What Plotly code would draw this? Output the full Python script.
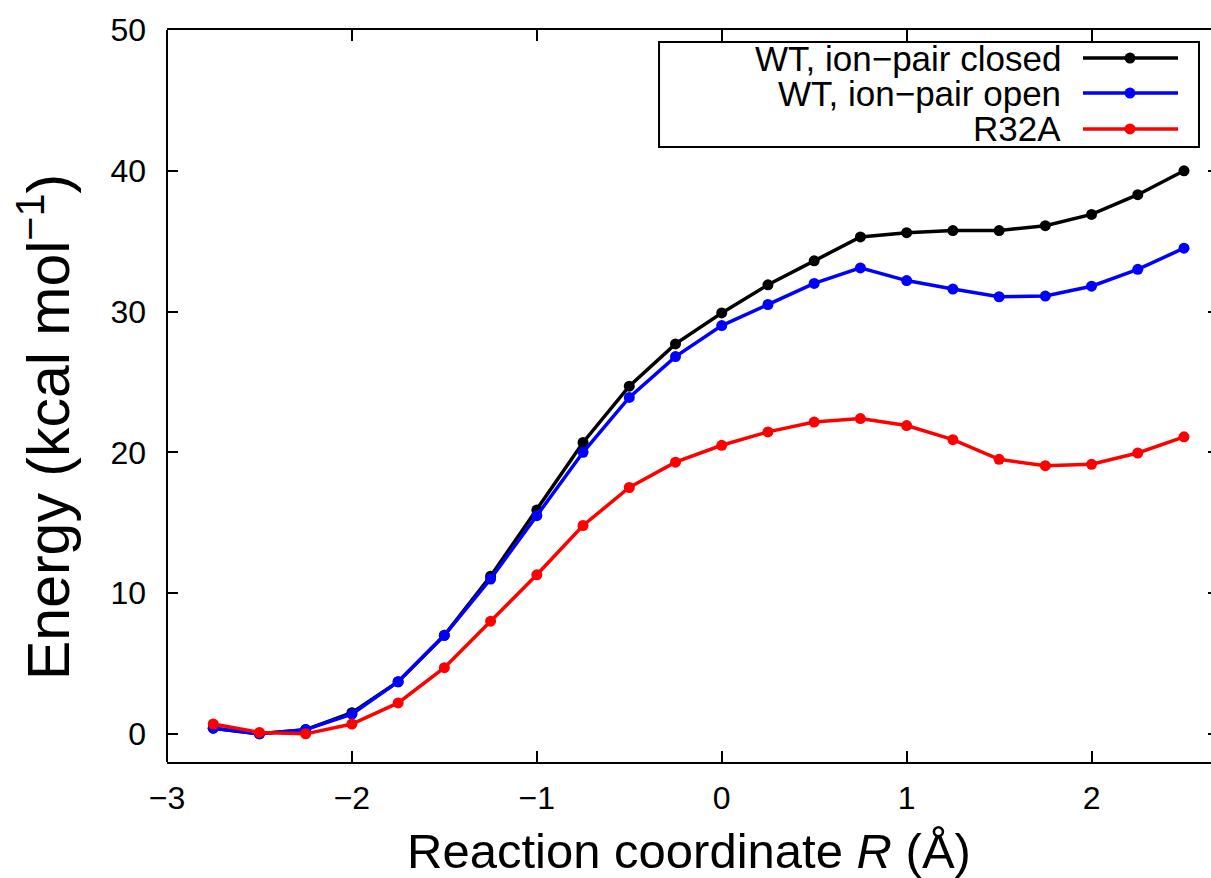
import plotly.graph_objects as go

# Reaction coordinate R (Å)
R = [-2.75, -2.5, -2.25, -2.0, -1.75, -1.5, -1.25, -1.0, -0.75, -0.5, -0.25,
     0.0, 0.25, 0.5, 0.75, 1.0, 1.25, 1.5, 1.75, 2.0, 2.25, 2.5]

# Free-energy profiles (kcal/mol)
wt_closed = [0.4, 0.0, 0.3, 1.5, 3.7, 7.0, 11.2, 15.9, 20.7, 24.7, 27.7,
             29.9, 31.9, 33.6, 35.3, 35.6, 35.75, 35.75, 36.1, 36.9, 38.3, 40.0]
wt_open = [0.4, 0.0, 0.3, 1.4, 3.7, 7.0, 11.0, 15.5, 20.0, 23.9, 26.8,
           29.0, 30.5, 32.0, 33.1, 32.2, 31.6, 31.05, 31.1, 31.8, 33.0, 34.5]
r32a = [0.7, 0.1, 0.0, 0.7, 2.2, 4.7, 8.0, 11.3, 14.8, 17.5, 19.3,
        20.5, 21.45, 22.15, 22.4, 21.9, 20.9, 19.5, 19.05, 19.15, 19.95, 21.1]

series_names = ["WT, ion\u2212pair closed", "WT, ion\u2212pair open", "R32A"]
series_colors = ["#000000", "#0000ff", "#ff0000"]
series_values = [wt_closed, wt_open, r32a]

x_ticks = [-3, -2, -1, 0, 1, 2]
y_ticks = [0, 10, 20, 30, 40, 50]

FONT = "Liberation Sans, Arial, Helvetica, sans-serif"

fig = go.Figure()
for name, color, vals in zip(series_names, series_colors, series_values):
    fig.add_trace(go.Scatter(
        x=R, y=vals, name=name, mode="lines+markers",
        line=dict(color=color, width=3.5),
        marker=dict(color=color, size=11),
        showlegend=False,
    ))

# Invisible trace carrying the short right-hand tick stubs
fig.add_trace(go.Scatter(x=[R[0]], y=[None], yaxis="y2", showlegend=False,
                         hoverinfo="skip"))

# Legend box drawn in paper coordinates: right-aligned text, sample on the right
shapes = [dict(type="rect", xref="paper", yref="paper",
               x0=0.4713, x1=0.9885, y0=0.8402, y1=0.9836,
               line=dict(color="black", width=2), fillcolor="white", layer="above")]
annotations = []
row_y = [0.9617, 0.9139, 0.8648]
for name, color, ry in zip(series_names, series_colors, row_y):
    annotations.append(dict(xref="paper", yref="paper", x=0.8573, y=ry,
                            xanchor="right", yanchor="middle", showarrow=False,
                            borderpad=0,
                            text=name, font=dict(family=FONT, size=35, color="black")))
    shapes.append(dict(type="line", xref="paper", yref="paper",
                       x0=0.8774, x1=0.9684, y0=ry, y1=ry,
                       line=dict(color=color, width=3.5), layer="above"))
    shapes.append(dict(type="circle", xref="paper", yref="paper",
                       xsizemode="pixel", ysizemode="pixel",
                       xanchor=0.9224, yanchor=ry, x0=-5.5, x1=5.5, y0=-5.5, y1=5.5,
                       line=dict(color=color, width=0), fillcolor=color, layer="above"))

# Left spine
shapes.append(dict(type="line", xref="paper", yref="paper", x0=0, x1=0, y0=0, y1=1,
                   line=dict(color="black", width=2), layer="above"))

# Y-axis title as a rotated annotation
annotations.append(dict(xref="paper", yref="paper", x=-0.1168, y=0.4577,
                        xanchor="center", yanchor="middle", showarrow=False,
                        textangle=-90, text="Energy (kcal mol<sup>\u22121</sup>)",
                        font=dict(family=FONT, size=59, color="black")))

fig.update_layout(
    width=1211, height=878,
    margin=dict(l=167, r=0, t=30, b=116),
    paper_bgcolor="white", plot_bgcolor="white",
    font=dict(family=FONT, size=32, color="black"),
    shapes=shapes, annotations=annotations,
    xaxis=dict(
        range=[-3, 2.646], tickvals=x_ticks, ticks="inside", ticklen=11,
        tickwidth=2, tickcolor="black", showline=True, linewidth=2,
        linecolor="black", mirror="ticks", showgrid=False, zeroline=False,
        ticklabelstandoff=7,
        title=dict(text="Reaction coordinate <i>R</i> (Å)",
                   font=dict(family=FONT, size=49), standoff=20),
    ),
    yaxis=dict(
        range=[-2, 50], tickvals=y_ticks, ticks="inside", ticklen=11,
        tickwidth=2, tickcolor="black", showline=False, mirror=False,
        showgrid=False, zeroline=False, ticklabelstandoff=20,
    ),
    yaxis2=dict(
        overlaying="y", side="right", anchor="x", range=[-2, 50],
        tickvals=y_ticks, ticks="inside", ticklen=3, tickwidth=2,
        tickcolor="black", showticklabels=False, showline=False,
        showgrid=False, zeroline=False,
    ),
)

fig.write_html("out.html")
